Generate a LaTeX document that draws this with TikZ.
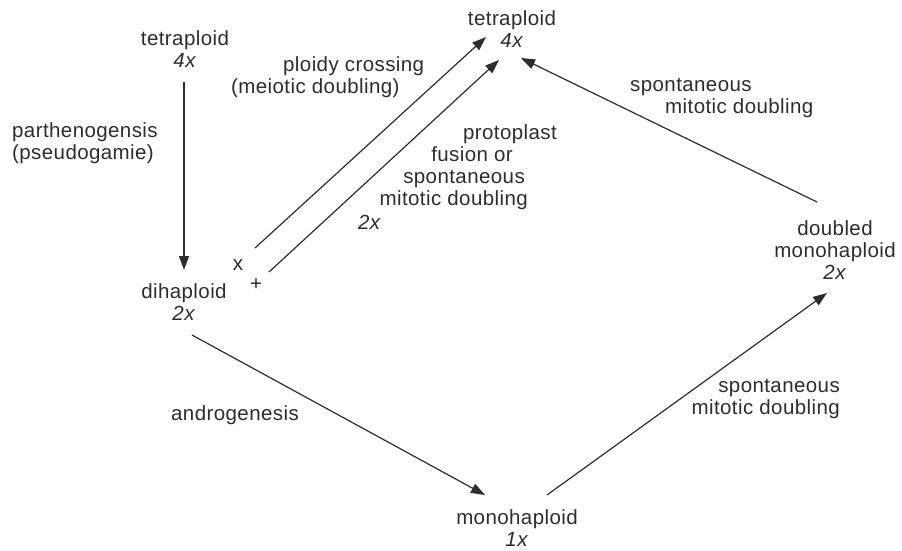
\documentclass[tikz,border=0pt]{standalone}
\usepackage{fontspec}
\setmainfont{Liberation Sans}[LetterSpace=2]
\usetikzlibrary{arrows.meta}
\definecolor{ink}{RGB}{45,45,45}
\begin{document}
\begin{tikzpicture}[x=1pt,y=-1pt,
  lbl/.style={text=ink,inner sep=0pt,font=\fontsize{20.5}{22}\selectfont,align=center},
  conn/.style={draw=ink,line width=1.2pt,-{Triangle[length=14pt,width=10pt]}}]
\useasboundingbox (0,0) rectangle (902,550);
% main nodes
\node[lbl] (tL) at (185,49) {tetraploid\\\textit{4x}};
\node[lbl] (dih) at (184,302) {dihaploid\\\textit{2x}};
\node[lbl] (tT) at (512,29) {tetraploid\\\textit{4x}};
\node[lbl] (dm) at (835,250) {doubled\\monohaploid\\\textit{2x}};
\node[lbl] (mh) at (517,528) {monohaploid\\\textit{1x}};
% labels
\node[lbl,anchor=west,align=left] (parth) at (12,143) {parthenogensis\\(pseudogamie)};
\node[lbl,anchor=west,align=left] (pc) at (231,77.5) {\hspace*{52pt}ploidy crossing\\(meiotic doubling)};
\node[lbl,anchor=east,align=right] (pf) at (557,167.5)
  {protoplast\\fusion or\hspace*{44pt}\mbox{}\\spontaneous\hspace*{32pt}\mbox{}\\mitotic doubling\hspace*{29pt}\mbox{}};
\node[lbl,anchor=west] (pf5) at (358,222) {\textit{2x}};
\node[lbl,anchor=west,align=left] (st) at (630,97.5) {spontaneous\\\hspace*{35pt}mitotic doubling};
\node[lbl,anchor=east,align=right] (sb) at (840,399) {spontaneous\\mitotic doubling};
\node[lbl] (andr) at (235,415) {androgenesis};
\node[lbl] (xs) at (238,265) {x};
\node[lbl] (ps) at (256,285) {+};
% connector end points
\coordinate (a1s) at (184,82);
\coordinate (a1e) at (184,270);
\coordinate (a2s) at (255,248);
\coordinate (a2e) at (486,37);
\coordinate (a3s) at (269,272);
\coordinate (a3e) at (499,60);
\coordinate (a4s) at (817,202);
\coordinate (a4e) at (521,58);
\coordinate (a5s) at (192,335);
\coordinate (a5e) at (485,495);
\coordinate (a6s) at (547,495);
\coordinate (a6e) at (827,293);
% connectors
\draw[conn] (a1s) -- (a1e);
\draw[conn] (a2s) -- (a2e);
\draw[conn] (a3s) -- (a3e);
\draw[conn] (a4s) -- (a4e);
\draw[conn] (a5s) -- (a5e);
\draw[conn] (a6s) -- (a6e);
\end{tikzpicture}
\end{document}
